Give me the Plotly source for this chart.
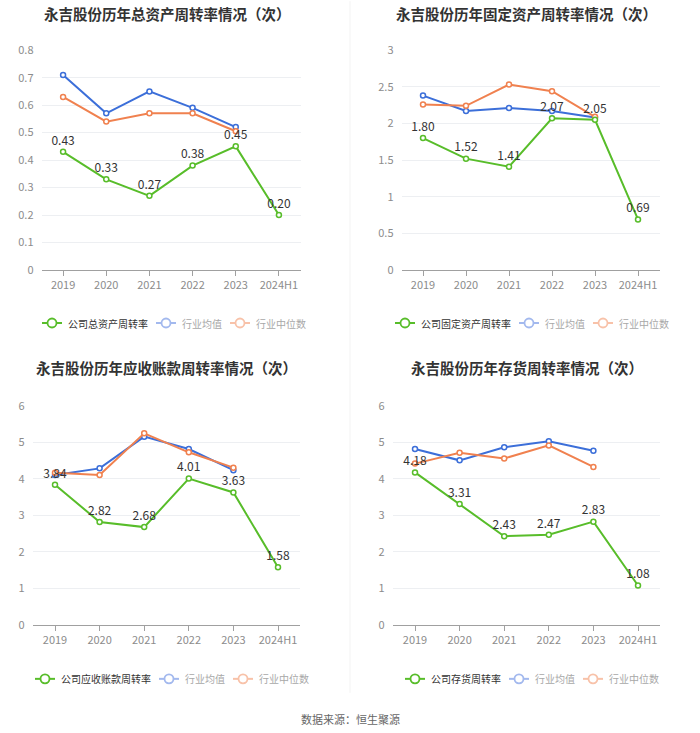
import plotly.graph_objects as go

categories = ["2019", "2020", "2021", "2022", "2023", "2024H1"]
industry_categories = ["2019", "2020", "2021", "2022", "2023"]

titles = [
    "永吉股份历年总资产周转率情况（次）",
    "永吉股份历年固定资产周转率情况（次）",
    "永吉股份历年应收账款周转率情况（次）",
    "永吉股份历年存货周转率情况（次）",
]
company_names = ["公司总资产周转率", "公司固定资产周转率", "公司应收账款周转率", "公司存货周转率"]
avg_name = "行业均值"
median_name = "行业中位数"

total_asset_company = [0.43, 0.33, 0.27, 0.38, 0.45, 0.20]
total_asset_avg = [0.71, 0.57, 0.65, 0.59, 0.52]
total_asset_median = [0.63, 0.54, 0.57, 0.57, 0.505]

fixed_asset_company = [1.80, 1.52, 1.41, 2.07, 2.05, 0.69]
fixed_asset_avg = [2.38, 2.17, 2.21, 2.17, 2.08]
fixed_asset_median = [2.26, 2.24, 2.53, 2.44, 2.09]

receivable_company = [3.84, 2.82, 2.68, 4.01, 3.63, 1.58]
receivable_avg = [4.11, 4.29, 5.16, 4.82, 4.24]
receivable_median = [4.17, 4.11, 5.25, 4.73, 4.31]

inventory_company = [4.18, 3.31, 2.43, 2.47, 2.83, 1.08]
inventory_avg = [4.82, 4.51, 4.87, 5.03, 4.77]
inventory_median = [4.42, 4.72, 4.56, 4.92, 4.33]

y_ranges = [(0, 0.8, 0.1), (0, 3, 0.5), (0, 6, 1), (0, 6, 1)]
source_text = "数据来源：恒生聚源"

W, H = 700, 733
FONT = "Noto Sans CJK SC"
GREEN = "#58BD2A"
BLUE = "#3C6FD9"
ORANGE = "#F0814F"
BLUE_L = "#A3B9EE"
ORANGE_L = "#F8C2A9"

# vertical calibration of the photographed page
VS = 749 / 733
VOFF = 8


def px(x):
    return x / W


def py(y):
    return 1 - (y * VS - VOFF) / H


def dy(d):
    return d * VS / H


# panel geometry in pixels: x-range of category band, y of 0 and top tick, title center, legend
panels = [
    dict(x0=41.5, x1=300.5, ybot=269, ytop=49, tx=167, ty=12.5, lx=42, ly=322),
    dict(x0=401.5, x1=659.5, ybot=269, ytop=49, tx=526, ty=12.5, lx=395, ly=322),
    dict(x0=32.7, x1=300.3, ybot=624, ytop=405, tx=166, ty=367, lx=35, ly=678),
    dict(x0=392.7, x1=660.3, ybot=624, ytop=405, tx=527, ty=367, lx=405, ly=678),
]

series = [
    (total_asset_company, total_asset_avg, total_asset_median),
    (fixed_asset_company, fixed_asset_avg, fixed_asset_median),
    (receivable_company, receivable_avg, receivable_median),
    (inventory_company, inventory_avg, inventory_median),
]

fig = go.Figure()
layout_axes = {}
annotations = []
shapes = []

for i, (p, (comp, avg, med)) in enumerate(zip(panels, series)):
    n = i + 1
    xa = "x" if n == 1 else f"x{n}"
    ya = "y" if n == 1 else f"y{n}"
    xkey = "xaxis" if n == 1 else f"xaxis{n}"
    ykey = "yaxis" if n == 1 else f"yaxis{n}"
    fig.add_trace(go.Scatter(
        x=industry_categories, y=avg, mode="lines+markers", name=avg_name,
        line=dict(color=BLUE, width=2),
        marker=dict(size=5, color="white", line=dict(width=1.5, color=BLUE)),
        xaxis=xa, yaxis=ya, showlegend=False, hoverinfo="x+y+name"))
    fig.add_trace(go.Scatter(
        x=industry_categories, y=med, mode="lines+markers", name=median_name,
        line=dict(color=ORANGE, width=2),
        marker=dict(size=5, color="white", line=dict(width=1.5, color=ORANGE)),
        xaxis=xa, yaxis=ya, showlegend=False, hoverinfo="x+y+name"))
    fig.add_trace(go.Scatter(
        x=categories, y=comp, mode="lines+markers+text", name=company_names[i],
        text=[f"{v:.2f}" for v in comp], textposition="top center",
        textfont=dict(family=FONT, size=12, color="#333333"),
        line=dict(color=GREEN, width=2),
        marker=dict(size=5, color="white", line=dict(width=1.5, color=GREEN)),
        cliponaxis=False,
        xaxis=xa, yaxis=ya, showlegend=False, hoverinfo="x+y+name"))

    ymin, ymax, dt = y_ranges[i]
    layout_axes[xkey] = dict(
        domain=[px(p["x0"]), px(p["x1"])], anchor=ya,
        type="category", categoryorder="array", categoryarray=categories,
        range=[-0.5, len(categories) - 0.5],
        showgrid=False, zeroline=False,
        showline=True, linecolor="#A0A0A0", linewidth=1,
        ticks="outside", ticklen=5, tickcolor="#A0A0A0",
        tickfont=dict(family=FONT, size=11, color="#8C8C8C"),
        fixedrange=True,
    )
    layout_axes[ykey] = dict(
        domain=[py(p["ybot"]), py(p["ytop"])], anchor=xa,
        range=[ymin, ymax], dtick=dt, tick0=0,
        showgrid=True, gridcolor="#EDEFF2", gridwidth=1,
        zeroline=False, showline=False, ticks="",
        ticklabelstandoff=7,
        tickfont=dict(family=FONT, size=11, color="#8C8C8C"),
        fixedrange=True,
    )

    annotations.append(dict(
        text=f"<b>{titles[i]}</b>", x=px(p["tx"]), y=py(p["ty"]),
        xref="paper", yref="paper", xanchor="center", yanchor="middle",
        showarrow=False, font=dict(family=FONT, size=14.5, color="#333333")))

    # legend (drawn manually so that the inactive-looking items can be lighter)
    items = [
        (company_names[i], GREEN, "#333333"),
        (avg_name, BLUE_L, "#A8A8A8"),
        (median_name, ORANGE_L, "#A8A8A8"),
    ]
    x = p["lx"]
    yc = py(p["ly"])
    fs = 10
    for name, col, tcol in items:
        shapes.append(dict(type="line", xref="paper", yref="paper",
                           x0=px(x), x1=px(x + 20), y0=yc, y1=yc,
                           line=dict(color=col, width=2)))
        r = 4.5
        shapes.append(dict(type="circle", xref="paper", yref="paper",
                           x0=px(x + 10 - r), x1=px(x + 10 + r),
                           y0=yc - dy(r), y1=yc + dy(r),
                           fillcolor="white", line=dict(color=col, width=1.8)))
        annotations.append(dict(
            text=name, x=px(x + 24), y=yc, xref="paper", yref="paper",
            xanchor="left", yanchor="middle", showarrow=False,
            font=dict(family=FONT, size=fs, color=tcol)))
        x = x + 24 + len(name) * fs + 10

# faint separator between left and right panels
shapes.append(dict(type="line", xref="paper", yref="paper",
                   x0=px(350), x1=px(350), y0=py(0), y1=py(692),
                   line=dict(color="#F3F3F3", width=1)))

annotations.append(dict(
    text=source_text, x=px(350), y=py(718), xref="paper", yref="paper",
    xanchor="center", yanchor="middle", showarrow=False,
    font=dict(family=FONT, size=11, color="#666666")))

fig.update_layout(
    width=W, height=H, autosize=False,
    margin=dict(l=0, r=0, t=0, b=0),
    paper_bgcolor="white", plot_bgcolor="white",
    font=dict(family=FONT),
    showlegend=False,
    annotations=annotations,
    shapes=shapes,
    **layout_axes,
)

post = (
    "document.documentElement.style.margin='0';"
    "document.documentElement.style.overflow='hidden';"
    "document.body.style.margin='0';document.body.style.padding='0';"
    "document.body.style.overflow='hidden';"
    "var gd=document.querySelector('.plotly-graph-div');"
    "if(gd){gd.style.position='fixed';gd.style.left='0px';gd.style.top='0px';}"
)

fig.write_html("out.html", config={"displayModeBar": False}, post_script=post)
